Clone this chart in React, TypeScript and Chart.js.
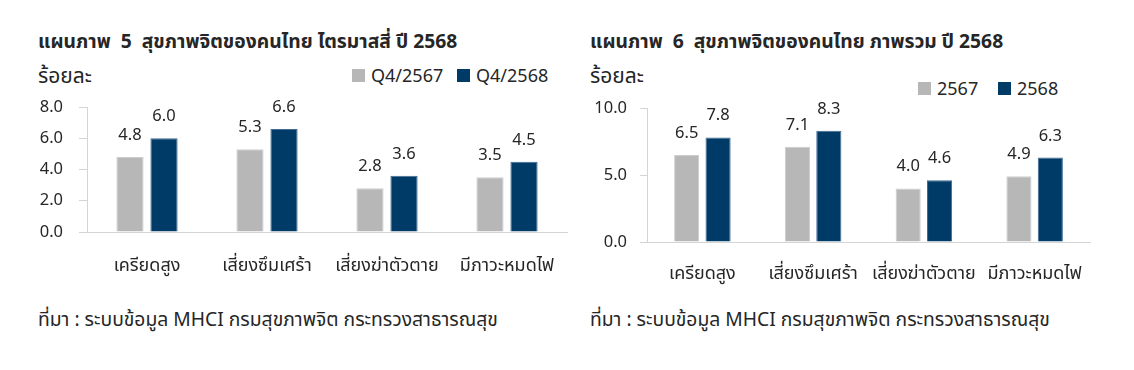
import React, { useEffect, useRef } from "react";
import { Chart, registerables } from "chart.js";

Chart.register(...registerables);

// ---------- data ----------
const categories = ["เครียดสูง", "เสี่ยงซึมเศร้า", "เสี่ยงฆ่าตัวตาย", "มีภาวะหมดไฟ"];

const q4Labels = ["Q4/2567", "Q4/2568"];
const q4Prev = [4.8, 5.3, 2.8, 3.5];
const q4Curr = [6.0, 6.6, 3.6, 4.5];
const q4Ticks = [0, 2, 4, 6, 8];

const yearLabels = ["2567", "2568"];
const yearPrev = [6.5, 7.1, 4.0, 4.9];
const yearCurr = [7.8, 8.3, 4.6, 6.3];
const yearTicks = [0, 5, 10];

const title5 = "แผนภาพ  5  สุขภาพจิตของคนไทย ไตรมาสสี่ ปี 2568";
const title6 = "แผนภาพ  6  สุขภาพจิตของคนไทย ภาพรวม ปี 2568";
const unitLabel = "ร้อยละ";
const sourceText = "ที่มา : ระบบข้อมูล MHCI กรมสุขภาพจิต กระทรวงสาธารณสุข";

const GRAY = "#B7B7B7";
const NAVY = "#003B67";
const AXIS = "#D4D4D4";
const TEXT = "#262626";
const FONT = '"Noto Sans", "Noto Sans Thai", Tahoma, sans-serif';

const valueLabels = {
  id: "valueLabels",
  afterDatasetsDraw(chart: any) {
    const ctx = chart.ctx;
    ctx.save();
    ctx.fillStyle = TEXT;
    ctx.font = `16.5px ${FONT}`;
    ctx.textAlign = "center";
    ctx.textBaseline = "alphabetic";
    chart.data.datasets.forEach((ds: any, i: number) => {
      const meta = chart.getDatasetMeta(i);
      meta.data.forEach((bar: any, j: number) => {
        ctx.fillText(Number(ds.data[j]).toFixed(1), bar.x, bar.y - 17);
      });
    });
    ctx.restore();
  },
};

type Cfg = {
  prev: number[];
  curr: number[];
  labels: string[];
  ticks: number[];
  max: number;
  yWidth: number;
  xHeight: number;
  padTop: number;
  padRight: number;
  tickLen: number;
  tickPad: number;
  xPad: number;
};

function BarChart({ cfg, width, height }: { cfg: Cfg; width: number; height: number }) {
  const ref = useRef<HTMLCanvasElement>(null);
  useEffect(() => {
    const chart = new Chart(ref.current as HTMLCanvasElement, {
      type: "bar",
      data: {
        labels: categories,
        datasets: [
          {
            label: cfg.labels[0],
            data: cfg.prev,
            backgroundColor: GRAY,
            borderColor: "#CDCDCD",
            borderWidth: 1,
            categoryPercentage: 0.567,
            barPercentage: 0.8,
          },
          {
            label: cfg.labels[1],
            data: cfg.curr,
            backgroundColor: NAVY,
            borderColor: "#3F6A92",
            borderWidth: 1,
            categoryPercentage: 0.567,
            barPercentage: 0.8,
          },
        ],
      },
      options: {
        animation: false,
        responsive: false,
        maintainAspectRatio: false,
        layout: { padding: { top: cfg.padTop, right: cfg.padRight, left: 0, bottom: 0 } },
        plugins: { legend: { display: false }, tooltip: { enabled: false } },
        scales: {
          x: {
            grid: { display: true, drawOnChartArea: false, drawTicks: false },
            border: { display: true, color: AXIS, width: 1 },
            ticks: {
              color: TEXT,
              padding: cfg.xPad,
              font: { family: FONT, size: 18 },
              maxRotation: 0,
              autoSkip: false,
            },
            afterFit: (s: any) => {
              s.height = cfg.xHeight;
              s.paddingLeft = 0;
              s.paddingRight = 0;
            },
          },
          y: {
            min: 0,
            max: cfg.max,
            afterBuildTicks: (s: any) => {
              s.ticks = cfg.ticks.map((v) => ({ value: v }));
            },
            grid: {
              display: true,
              drawOnChartArea: false,
              drawTicks: true,
              tickLength: cfg.tickLen,
              color: AXIS,
            },
            border: { display: true, color: AXIS, width: 1 },
            ticks: {
              color: TEXT,
              padding: cfg.tickPad,
              font: { family: FONT, size: 16.5 },
              callback: (v: any) => Number(v).toFixed(1),
            },
            afterFit: (s: any) => {
              s.width = cfg.yWidth;
              s.paddingTop = 0;
              s.paddingBottom = 0;
            },
          },
        },
      },
      plugins: [valueLabels],
    });
    return () => chart.destroy();
  }, []);
  return <canvas ref={ref} width={width} height={height} style={{ width, height, display: "block" }} />;
}

function Legend({ labels, left, top }: { labels: string[]; left: number[]; top: number }) {
  return (
    <>
      {labels.map((l, i) => (
        <div
          key={l}
          style={{
            position: "absolute",
            left: left[i],
            top,
            display: "flex",
            alignItems: "center",
            fontFamily: FONT,
            fontSize: 18,
            color: TEXT,
            lineHeight: "20px",
            whiteSpace: "nowrap",
          }}
        >
          <span
            style={{
              display: "inline-block",
              width: 13,
              height: 13,
              background: i === 0 ? GRAY : NAVY,
              marginRight: 6,
            }}
          />
          {l}
        </div>
      ))}
    </>
  );
}

const textStyle = (left: number, top: number, size: number, bold = false): React.CSSProperties => ({
  position: "absolute",
  left,
  top,
  fontFamily: FONT,
  fontSize: size,
  fontWeight: bold ? 700 : 400,
  color: TEXT,
  whiteSpace: "pre",
  lineHeight: 1,
});

export default function App() {
  useEffect(() => {
    document.body.style.margin = "0";
    document.body.style.background = "#fff";
  }, []);

  const cfg5: Cfg = {
    prev: q4Prev,
    curr: q4Curr,
    labels: q4Labels,
    ticks: q4Ticks,
    max: 8,
    yWidth: 87,
    xHeight: 58,
    padTop: 17,
    padRight: 8,
    tickLen: 8,
    tickPad: 16,
    xPad: 23,
  };
  const cfg6: Cfg = {
    prev: yearPrev,
    curr: yearCurr,
    labels: yearLabels,
    ticks: yearTicks,
    max: 10,
    yWidth: 72,
    xHeight: 48,
    padTop: 18,
    padRight: 44,
    tickLen: 7,
    tickPad: 13,
    xPad: 21,
  };

  return (
    <div style={{ position: "relative", width: 1134, height: 370, background: "#fff", overflow: "hidden" }}>
      <div style={textStyle(38, 31, 19.3, true)}>{title5}</div>
      <div style={textStyle(38, 65, 21)}>{unitLabel}</div>
      <Legend labels={q4Labels} left={[352, 457]} top={65} />
      <div style={{ position: "absolute", left: 0, top: 90 }}>
        <BarChart cfg={cfg5} width={575} height={200} />
      </div>
      <div style={textStyle(38, 309, 19.3)}>{sourceText}</div>

      <div style={textStyle(590, 31, 19.3, true)}>{title6}</div>
      <div style={textStyle(590, 65, 21)}>{unitLabel}</div>
      <Legend labels={yearLabels} left={[918, 998]} top={78} />
      <div style={{ position: "absolute", left: 575, top: 90 }}>
        <BarChart cfg={cfg6} width={559} height={200} />
      </div>
      <div style={textStyle(590, 309, 19.3)}>{sourceText}</div>
    </div>
  );
}
